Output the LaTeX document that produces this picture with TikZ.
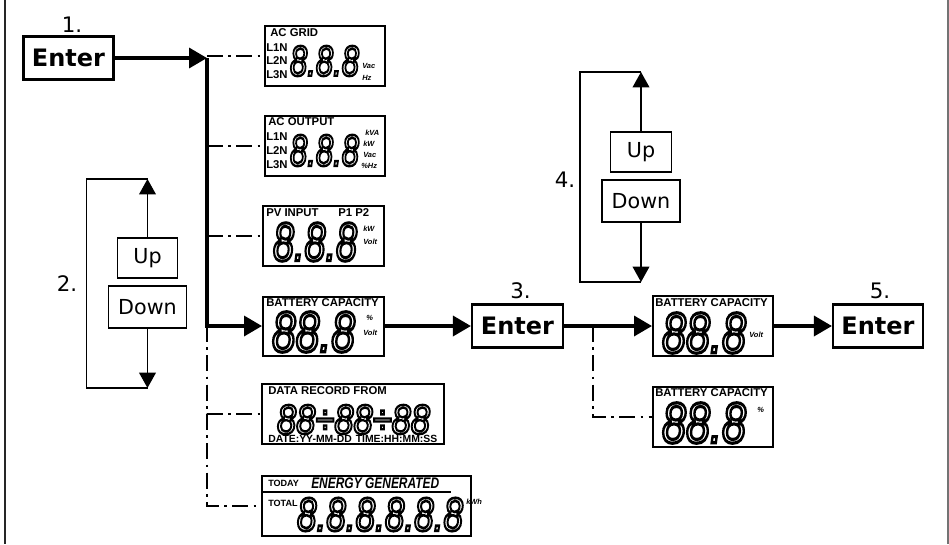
\documentclass[tikz,border=0pt]{standalone}
\usepackage{fontspec}
\setmainfont{DejaVu Sans}
\newfontfamily\lcdfont{Liberation Sans}
\usetikzlibrary{arrows.meta, calc}
\newlength\pxu
\setlength\pxu{0.75pt}
\newcommand\segtext[3]{\resizebox{#1\pxu}{#2\pxu}{\special{pdf:literal direct 1 Tr 0.55 w}\lcdfont\itshape #3\special{pdf:literal direct 0 Tr}}}

\begin{document}
\begin{tikzpicture}[x=0.75pt, y=-0.75pt,
    keybox/.style={draw, line width=1.6pt, font=\bfseries\fontsize{18}{20}\selectfont, inner sep=0pt, minimum width=90\pxu, minimum height=43\pxu},
    btnbox/.style={draw, line width=1pt, font=\fontsize{15.5}{17}\selectfont, inner sep=0pt, minimum height=40\pxu},
    lcdbox/.style={draw, line width=1.5pt, inner sep=0pt, minimum height=60\pxu},
    stepnum/.style={font=\fontsize{16}{18}\selectfont, inner sep=0pt},
    lcdtag/.style={font=\lcdfont\bfseries\fontsize{8.5}{9}\selectfont, inner sep=0pt, anchor=west},
    smalltag/.style={font=\lcdfont\bfseries\fontsize{6.8}{7}\selectfont, inner sep=0pt, anchor=west},
    unit/.style={font=\lcdfont\bfseries\itshape\fontsize{5.6}{6}\selectfont, inner sep=0pt, anchor=west},
    digits/.style={inner sep=0pt},
    flow/.style={line width=2.6pt, -{Triangle[length=13.5pt, width=15pt]}},
    option/.style={line width=1.1pt, dash pattern=on 12pt off 4pt on 2pt off 4pt},
    pick/.style={line width=1.1pt, -{Triangle[length=11.5pt, width=12.5pt]}},
    loopline/.style={line width=1pt}
  ]
  \useasboundingbox (0,0) rectangle (949,544);
  \draw[line width=1.5pt, black!85] (5,0) -- (5,544);
  \draw[line width=1.2pt, black!55] (948,0) -- (948,544);

  \node[stepnum] (num1) at (72,24.5) {1.};
  \node[keybox] (enter1) at (68.5,58) {Enter};
  \coordinate (split) at (207,58);

  \node[lcdbox, minimum width=120\pxu] (grid) at (325,56) {};
  \node[lcdtag] (gridtag) at (270,32.5) {AC GRID};
  \node[lcdtag] (grid1) at (266,48) {L1N};
  \node[lcdtag] (grid2) at (266,61) {L2N};
  \node[lcdtag] (grid3) at (266,74.5) {L3N};
  \node[digits] (griddig) at (324.5,61) {\segtext{69}{30}{8.8.8}};
  \node[unit] (gridvac) at (362,66) {Vac};
  \node[unit] (gridhz) at (362,77.5) {Hz};

  \node[lcdbox, minimum width=120\pxu] (acout) at (325,146) {};
  \node[lcdtag] (acouttag) at (268,122) {AC OUTPUT};
  \node[lcdtag] (acout1) at (266,137) {L1N};
  \node[lcdtag] (acout2) at (266,151) {L2N};
  \node[lcdtag] (acout3) at (266,164.5) {L3N};
  \node[digits] (acoutdig) at (324.5,150.5) {\segtext{69}{31}{8.8.8}};
  \node[unit] (acoutkva) at (365,132.5) {kVA};
  \node[unit] (acoutkw) at (363,143.5) {kW};
  \node[unit] (acoutvac) at (363,154.5) {Vac};
  \node[unit] (acouthz) at (361,165.5) {\%Hz};

  \node[lcdbox, minimum width=121\pxu] (pv) at (323.5,236) {};
  \node[lcdtag] (pvtag) at (266,212.5) {PV INPUT};
  \node[lcdtag] (pvport) at (338,212.5) {P1 P2};
  \node[digits] (pvdig) at (315,242) {\segtext{84}{38}{8.8.8}};
  \node[unit] (pvkw) at (363,228.5) {kW};
  \node[unit] (pvvolt) at (363,241.5) {Volt};

  \node[lcdbox, minimum width=121\pxu, minimum height=59\pxu] (bat1) at (323.5,326) {};
  \node[lcdtag] (bat1tag) at (266,303) {BATTERY CAPACITY};
  \node[digits] (bat1dig) at (313.5,332) {\segtext{83}{40}{88.8}};
  \node[unit] (bat1pct) at (366,318) {\%};
  \node[unit] (bat1volt) at (363,333) {Volt};

  \node[lcdbox, minimum width=182\pxu] (rec) at (353,414) {};
  \node[lcdtag] (rectag) at (268,390.5) {DATA RECORD FROM};
  \node[digits] (recdig) at (353.5,419.5) {\segtext{153}{29}{88÷88÷88}};
  \node[lcdtag, font=\lcdfont\bfseries\fontsize{7.8}{8}\selectfont] (recfmt) at (268,439) {DATE:YY-MM-DD\hspace{4\pxu}TIME:HH:MM:SS};

  \node[lcdbox, minimum width=209\pxu] (total) at (366.5,506) {};
  \node[smalltag] (todaytag) at (268,483) {TODAY};
  \node[anchor=west, inner sep=0pt] (energytag) at (311,483) {\scalebox{0.78}[1]{\lcdfont\bfseries\itshape\fontsize{11.5}{12}\selectfont ENERGY GENERATED}};
  \draw[line width=1.3pt] (262,492) -- (451,492);
  \node[smalltag] (totaltag) at (268,503) {TOTAL};
  \node[digits] (totaldig) at (380,514.5) {\segtext{166}{33}{8.8.8.8.8.8}};
  \node[unit] (totalkwh) at (466,502) {kWh};

  \node[stepnum] (num3) at (520.5,290.5) {3.};
  \node[keybox, minimum width=91\pxu] (enter3) at (517.5,326) {Enter};
  \coordinate (fork) at (593,326);

  \node[lcdbox, minimum width=120\pxu] (batv) at (713,326) {};
  \node[lcdtag] (batvtag) at (655,303) {BATTERY CAPACITY};
  \node[digits] (batvdig) at (704,333) {\segtext{84}{40}{88.8}};
  \node[unit] (batvvolt) at (749,335) {Volt};

  \node[lcdbox, minimum width=120\pxu] (batp) at (713,417) {};
  \node[lcdtag] (batptag) at (655,393) {BATTERY CAPACITY};
  \node[digits] (batpdig) at (704,423) {\segtext{84}{40}{88.8}};
  \node[unit] (batppct) at (757,410) {\%};

  \node[stepnum] (num5) at (880,291) {5.};
  \node[keybox] (enter5) at (878,326) {Enter};

  \node[btnbox, minimum width=60\pxu] (up2) at (147.5,258) {Up};
  \node[btnbox, minimum width=78\pxu, minimum height=42\pxu] (down2) at (147.5,307) {Down};
  \coordinate (top2) at (147.5,179);
  \coordinate (bot2) at (147.5,388);
  \node[stepnum] (num2) at (67,284) {2.};

  \node[btnbox, minimum width=61\pxu] (up4) at (641,152) {Up};
  \node[btnbox, minimum width=78\pxu, minimum height=42\pxu] (down4) at (641,201) {Down};
  \coordinate (top4) at (641,72);
  \coordinate (bot4) at (641,282);
  \node[stepnum] (num4) at (565,180) {4.};

  \draw[flow] (enter1) -- (split);
  \draw[flow] (split) |- (bat1.west);
  \draw[option] (split |- grid.west) -- (grid.west);
  \draw[option] (split |- acout.west) -- (acout.west);
  \draw[option] (split |- pv.west) -- (pv.west);
  \draw[option] (split |- bat1.west) |- (rec.west);
  \draw[option] (split |- bat1.west) |- (total.west);
  \draw[flow] (bat1) -- (enter3);
  \draw[flow] (enter3) -- (batv);
  \draw[option] (fork) |- (batp.west);
  \draw[flow] (batv) -- (enter5);

  \draw[pick] (up2) -- (top2);
  \draw[pick] (down2) -- (bot2);
  \draw[loopline] (top2) -- ++(-61,0) |- (bot2);
  \draw[pick] (up4) -- (top4);
  \draw[pick] (down4) -- (bot4);
  \draw[loopline] (top4) -- ++(-61,0) |- (bot4);
\end{tikzpicture}
\end{document}
